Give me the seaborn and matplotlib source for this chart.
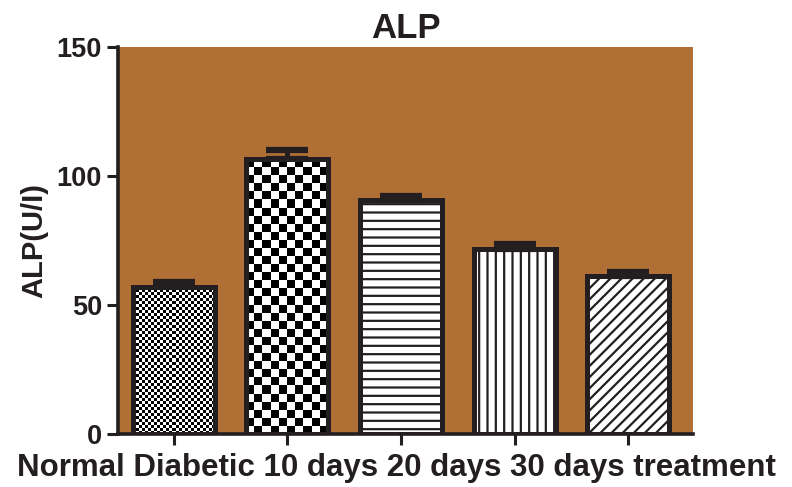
import numpy as np
import pandas as pd
import matplotlib
matplotlib.use('Agg')
import matplotlib.pyplot as plt
import seaborn as sns

# data
groups = ['Normal', 'Diabetic', '10 days', '20 days', '30 days treatment']
alp = [57.0, 106.5, 90.5, 71.8, 61.3]
sem = [2.0, 3.5, 1.8, 1.8, 1.5]
yticks = [0, 50, 100, 150]

sns.set_theme(style='ticks')
plt.rcParams['font.family'] = ['Liberation Sans', 'DejaVu Sans']
plt.rcParams['font.weight'] = 'bold'
plt.rcParams['hatch.linewidth'] = 1.6
plt.rcParams['hatch.color'] = '#231f20'

ink = '#231f20'
bg = '#b07035'

df = pd.DataFrame({'group': groups, 'alp': alp})

fig = plt.figure(figsize=(7.92, 4.87), dpi=100)
ax = fig.add_axes([0.149, 0.109, 0.726, 0.795])
ax.set_facecolor(bg)

sns.barplot(data=df, x='group', y='alp', color='white', width=0.72,
            edgecolor=ink, linewidth=3.6, saturation=1, errorbar=None, ax=ax)

ax.set_xlim(-0.49, 4.57)
ax.set_ylim(0, 150)

# checkerboards for the first two bars, hatches for the rest
cells = [27, 10]
hatches = [None, None, '--', '||', '///']
for i, p in enumerate(ax.patches):
    if i < 2:
        x0, w, h = p.get_x(), p.get_width(), p.get_height()
        (px0, py0), (px1, py1) = ax.transData.transform([(x0, 0), (x0 + w, h)])
        n = cells[i]
        rows = int(round(n * (py1 - py0) / (px1 - px0)))
        board = (np.indices((rows, n)).sum(axis=0) % 2).astype(float)
        im = ax.imshow(board, cmap='gray', extent=(x0, x0 + w, 0, h),
                       aspect='auto', interpolation='nearest', zorder=p.get_zorder() + 0.1)
        im.set_clip_path(p)
        p.set_zorder(p.get_zorder() + 0.2)
        p.set_facecolor('none')
    else:
        p.set_hatch(hatches[i])

# upper error bars only
_, caps, _ = ax.errorbar(x=np.arange(len(groups)), y=alp, yerr=[np.zeros(len(sem)), sem],
                         fmt='none', ecolor=ink, elinewidth=3.6, capsize=15, capthick=4.5, zorder=1)
ax.set_xlim(-0.49, 4.57)
ax.set_ylim(0, 150)
ax.set_yticks(yticks)
ax.set_xticks(range(len(groups)))
ax.set_xticklabels([''] * len(groups))
ax.tick_params(axis='both', width=2.2, length=8, color=ink, labelsize=19.5, labelcolor=ink)
for side in ['left', 'bottom']:
    ax.spines[side].set_linewidth(2.6)
    ax.spines[side].set_color(ink)
for side in ['top', 'right']:
    ax.spines[side].set_visible(False)

ax.set_ylabel('ALP(U/I)', fontsize=21, fontweight='bold', color=ink, labelpad=6)
ax.set_title('ALP', fontsize=25, fontweight='bold', color=ink, pad=6)
fig.text(0.5, 0.038, ' '.join(groups), ha='center', va='center',
         fontsize=22.5, fontweight='bold', color=ink)
ax.set_xlabel('')

fig.savefig('out.png', dpi=100)
